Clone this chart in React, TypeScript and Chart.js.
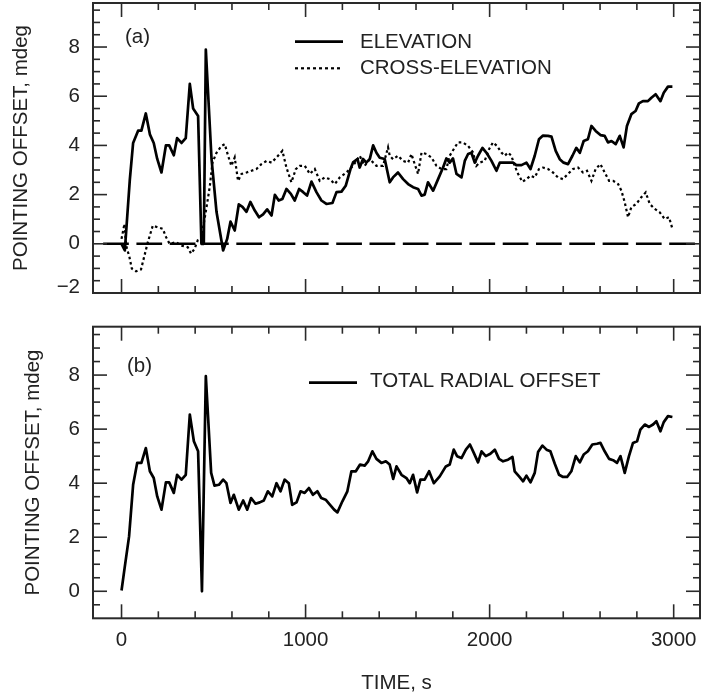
import React, { useEffect, useRef } from "react";
import { Chart, registerables } from "chart.js";

Chart.register(...registerables);

// ---------- DATA ----------
const ELEV_T = [0, 18, 45, 63, 90, 108, 132, 154, 175, 194, 217, 241, 259, 284, 302, 326, 349, 371, 389, 416, 434, 447, 458, 489, 516, 552, 574, 592, 615, 637, 657, 679, 700, 724, 747, 769, 791, 815, 833, 854, 874, 896, 920, 941, 965, 987, 1008, 1032, 1059, 1086, 1113, 1146, 1168, 1195, 1218, 1244, 1258, 1282, 1294, 1312, 1330, 1349, 1367, 1385, 1403, 1430, 1457, 1475, 1502, 1530, 1557, 1584, 1611, 1630, 1647, 1665, 1693, 1720, 1747, 1765, 1783, 1801, 1820, 1847, 1865, 1883, 1901, 1919, 1937, 1961, 1983, 2010, 2037, 2055, 2091, 2127, 2145, 2173, 2200, 2222, 2245, 2268, 2290, 2317, 2336, 2359, 2381, 2402, 2426, 2450, 2471, 2490, 2511, 2534, 2553, 2576, 2602, 2625, 2643, 2662, 2685, 2707, 2728, 2746, 2770, 2793, 2811, 2833, 2860, 2879, 2902, 2915, 2928, 2946, 2969, 2993];
const ELEV_V = [0, -0.27, 2.6, 4.1, 4.6, 4.6, 5.3, 4.45, 4.1, 3.45, 2.9, 4.0, 4.0, 3.6, 4.3, 4.1, 4.3, 6.5, 5.5, 5.2, 0, 0, 7.9, 3.45, 1.3, -0.27, 0.2, 0.9, 0.54, 1.6, 1.5, 1.3, 1.7, 1.35, 1.08, 1.2, 1.4, 1.15, 1.99, 1.76, 1.82, 2.23, 2.03, 1.76, 2.23, 2.1, 1.96, 2.53, 2.1, 1.76, 1.62, 1.66, 2.1, 2.12, 2.36, 3.04, 3.31, 3.45, 3.1, 3.45, 3.3, 3.45, 4.0, 3.7, 3.5, 3.45, 2.5, 2.7, 2.9, 2.63, 2.43, 2.3, 2.23, 1.96, 2.0, 2.5, 2.16, 2.63, 3.1, 3.47, 3.3, 3.47, 2.84, 2.7, 3.37, 3.65, 3.7, 3.3, 3.58, 3.9, 3.7, 3.37, 2.97, 3.3, 3.3, 3.3, 3.2, 3.2, 3.3, 3.04, 3.58, 4.25, 4.4, 4.39, 4.36, 3.78, 3.44, 3.3, 3.24, 3.58, 3.9, 3.7, 4.18, 4.25, 4.79, 4.59, 4.42, 4.39, 4.12, 4.18, 4.05, 4.39, 3.92, 4.79, 5.27, 5.4, 5.71, 5.8, 5.8, 5.94, 6.08, 5.94, 5.8, 6.14, 6.39, 6.39];

const XEL_T = [0, 16, 25, 43, 56, 79, 106, 125, 143, 170, 197, 224, 242, 261, 297, 324, 360, 378, 397, 414, 432, 451, 469, 480, 494, 516, 543, 561, 579, 597, 615, 633, 652, 679, 706, 733, 760, 788, 815, 842, 874, 896, 923, 947, 968, 996, 1023, 1050, 1077, 1104, 1131, 1159, 1186, 1222, 1258, 1294, 1321, 1349, 1385, 1421, 1448, 1457, 1475, 1502, 1530, 1557, 1575, 1593, 1611, 1630, 1657, 1684, 1711, 1738, 1765, 1783, 1811, 1828, 1855, 1883, 1910, 1928, 1946, 1973, 1997, 2018, 2040, 2064, 2082, 2100, 2118, 2136, 2155, 2178, 2200, 2222, 2245, 2268, 2290, 2317, 2344, 2371, 2398, 2426, 2453, 2480, 2507, 2529, 2553, 2576, 2602, 2625, 2649, 2671, 2698, 2716, 2734, 2752, 2770, 2797, 2824, 2848, 2870, 2897, 2924, 2951, 2975, 2993];
const XEL_V = [0.2, 0.81, -0.07, -0.54, -1.01, -1.12, -1.04, -0.47, 0.07, 0.74, 0.67, 0.61, 0.27, 0, 0.07, -0.07, -0.14, -0.4, -0.2, 0.14, 0.2, 1.0, 1.82, 2.36, 3.3, 3.7, 3.98, 4.05, 3.58, 3.17, 3.51, 2.56, 2.84, 2.9, 2.97, 3.04, 3.24, 3.37, 3.3, 3.51, 3.78, 3.1, 2.5, 3.04, 3.17, 3.17, 2.84, 3.04, 2.56, 2.7, 2.63, 2.43, 2.7, 2.9, 3.17, 3.58, 3.17, 3.44, 3.17, 3.17, 3.92, 3.58, 3.44, 3.58, 3.37, 3.3, 3.65, 3.24, 2.84, 3.71, 3.65, 3.51, 3.17, 3.04, 3.04, 3.58, 3.92, 4.12, 4.12, 3.98, 3.71, 3.17, 3.3, 3.37, 3.85, 4.12, 3.98, 3.71, 3.58, 3.71, 3.58, 3.17, 2.84, 2.52, 2.63, 2.77, 2.7, 3.04, 3.1, 3.04, 2.9, 2.7, 2.63, 2.84, 3.04, 3.1, 2.9, 2.97, 2.56, 3.04, 3.24, 2.9, 2.56, 2.56, 2.43, 2.16, 1.69, 1.08, 1.49, 1.62, 1.89, 2.09, 1.62, 1.42, 1.28, 1.01, 1.08, 0.61];

const TOT_T = [0, 18, 41, 63, 85, 108, 132, 154, 175, 194, 217, 241, 259, 284, 302, 326, 349, 371, 393, 416, 437, 458, 487, 505, 529, 552, 570, 592, 610, 637, 661, 683, 704, 728, 751, 773, 795, 819, 842, 864, 886, 909, 927, 951, 973, 995, 1018, 1040, 1064, 1085, 1109, 1133, 1155, 1173, 1200, 1227, 1249, 1273, 1296, 1321, 1340, 1363, 1385, 1412, 1436, 1457, 1476, 1494, 1521, 1548, 1566, 1584, 1606, 1624, 1647, 1671, 1697, 1729, 1762, 1783, 1805, 1823, 1847, 1871, 1893, 1914, 1937, 1956, 1979, 2004, 2028, 2051, 2073, 2100, 2124, 2136, 2160, 2182, 2200, 2222, 2245, 2263, 2287, 2309, 2330, 2354, 2377, 2399, 2421, 2444, 2468, 2490, 2511, 2534, 2558, 2583, 2602, 2625, 2649, 2671, 2692, 2711, 2734, 2757, 2779, 2801, 2819, 2843, 2866, 2888, 2906, 2928, 2946, 2969, 2993];
const TOT_V = [0.03, 0.92, 2.03, 3.94, 4.75, 4.75, 5.3, 4.44, 4.19, 3.51, 3.02, 4.03, 4.03, 3.64, 4.31, 4.13, 4.31, 6.54, 5.55, 5.18, 0, 7.96, 4.38, 3.91, 3.94, 4.13, 4.0, 3.27, 3.57, 3.02, 3.36, 3.02, 3.45, 3.24, 3.29, 3.36, 3.7, 3.51, 4.0, 3.7, 4.13, 4.0, 3.2, 3.29, 3.7, 3.64, 3.82, 3.57, 3.7, 3.45, 3.39, 3.2, 3.02, 2.92, 3.33, 3.7, 4.44, 4.44, 4.69, 4.65, 4.81, 5.18, 4.9, 4.75, 4.81, 4.69, 4.16, 4.62, 4.31, 4.19, 4.0, 4.31, 3.66, 4.13, 4.13, 4.44, 4.0, 4.25, 4.62, 4.69, 5.24, 5.0, 4.93, 5.24, 5.43, 5.12, 4.77, 5.18, 5.0, 5.09, 5.24, 4.9, 4.81, 4.87, 4.97, 4.44, 4.25, 4.07, 4.28, 4.03, 4.38, 5.15, 5.39, 5.24, 5.18, 4.72, 4.31, 4.23, 4.23, 4.44, 5.0, 4.77, 5.06, 5.18, 5.43, 5.46, 5.49, 5.18, 4.9, 4.85, 4.75, 5.0, 4.38, 5.0, 5.49, 5.55, 5.98, 6.17, 6.08, 6.17, 6.29, 5.92, 6.26, 6.48, 6.45];

const ZERO_T = [-100, 3150];
const ZERO_V = [0, 0];

const X_TICKS = [0, 1000, 2000, 3000];
const Y_TICKS_A = [-2, 0, 2, 4, 6, 8];
const Y_TICKS_B = [0, 2, 4, 6, 8];

const LABEL_A = "(a)";
const LABEL_B = "(b)";
const LEGEND_A = ["ELEVATION", "CROSS-ELEVATION"];
const LEGEND_B = ["TOTAL RADIAL OFFSET"];
const Y_TITLE = "POINTING OFFSET, mdeg";
const X_TITLE = "TIME, s";

// ---------- STYLE ----------
const FONT = "'Liberation Sans', Arial, Helvetica, sans-serif";
const FS = 20.5;
const TEXT = "#222";
const FRAME = "#2a2a2a";
const W = 701;

const pts = (t: number[], v: number[]) => t.map((x, i) => ({ x, y: v[i] }));

function fmt(v: number) {
  return v < 0 ? "\u2212" + Math.abs(v) : String(v);
}

type LegendItem = { text: string; dash: number[]; width: number; lineX0: number; lineX1: number; lineY: number; textX: number; textY: number };

function framePlugin(yMinorStart: number, panel: { text: string; x: number; y: number }, legend: LegendItem[]) {
  return {
    id: "frame",
    afterDatasetsDraw(chart: any) {
      const { ctx, chartArea: a, scales } = chart;
      const xs = scales.x, ys = scales.y;
      ctx.save();
      ctx.strokeStyle = FRAME;
      ctx.lineWidth = 1.6;
      ctx.setLineDash([]);
      const seg = (x0: number, y0: number, x1: number, y1: number) => {
        ctx.beginPath();
        ctx.moveTo(x0, y0);
        ctx.lineTo(x1, y1);
        ctx.stroke();
      };
      for (let t = 0; t <= 3000; t += 200) {
        const px = xs.getPixelForValue(t);
        const L = t % 1000 === 0 ? 14 : 7;
        seg(px, a.bottom, px, a.bottom - L);
        seg(px, a.top, px, a.top + L);
      }
      for (let k = yMinorStart * 2; k <= 19; k++) {
        const v = k / 2;
        const py = ys.getPixelForValue(v);
        if (py < a.top + 0.5 || py > a.bottom - 0.5) continue;
        const L = Number.isInteger(v) && v % 2 === 0 ? 14 : 7;
        seg(a.left, py, a.left + L, py);
        seg(a.right, py, a.right - L, py);
      }
      ctx.lineWidth = 2;
      ctx.strokeRect(a.left, a.top, a.right - a.left, a.bottom - a.top);

      ctx.fillStyle = TEXT;
      ctx.font = `${FS}px ${FONT}`;
      ctx.textBaseline = "middle";
      ctx.textAlign = "left";
      ctx.fillText(panel.text, panel.x, panel.y);
      for (const it of legend) {
        ctx.strokeStyle = "#000";
        ctx.lineWidth = it.width;
        ctx.setLineDash(it.dash);
        seg(it.lineX0, it.lineY, it.lineX1, it.lineY);
        ctx.setLineDash([]);
        ctx.fillText(it.text, it.textX, it.textY);
      }
      ctx.restore();
    },
  };
}

function yAxis(min: number, ticks: number[], titlePad: number) {
  return {
    type: "linear",
    min,
    max: 9.79,
    afterFit: (s: any) => {
      s.width = 93;
      s.paddingTop = 0;
      s.paddingBottom = 0;
    },
    afterBuildTicks: (s: any) => {
      s.ticks = ticks.map((v) => ({ value: v }));
    },
    grid: { display: false, drawTicks: false },
    border: { display: false },
    ticks: {
      padding: 13,
      color: TEXT,
      // the label sitting on the bottom frame is lifted a little, as in the reference
      font: (c: any) => ({ family: FONT, size: FS, lineHeight: c.tick && c.tick.value === min ? 0.6 : 1.2 }),
      callback: (v: any) => (Number(v) === min ? [fmt(Number(v)), ""] : fmt(Number(v))),
    },
    title: {
      display: true,
      text: Y_TITLE,
      color: TEXT,
      font: { family: FONT, size: FS, lineHeight: 1.2 },
      padding: { top: titlePad, bottom: 0 },
    },
  };
}

function Panel({ which }: { which: "a" | "b" }) {
  const ref = useRef<HTMLCanvasElement | null>(null);
  useEffect(() => {
    if (!ref.current) return;
    let chart: Chart;
    if (which === "a") {
      chart = new Chart(ref.current, {
        type: "line",
        data: {
          datasets: [
            { data: pts(ZERO_T, ZERO_V), borderColor: "#000", borderWidth: 2.6, borderDash: [25.7, 7.6], pointRadius: 0, fill: false },
            { data: pts(XEL_T, XEL_V), borderColor: "#000", borderWidth: 2.2, borderDash: [2.6, 2.8], pointRadius: 0, fill: false },
            { data: pts(ELEV_T, ELEV_V), borderColor: "#000", borderWidth: 2.7, borderJoinStyle: "round", pointRadius: 0, fill: false },
          ],
        } as any,
        options: {
          animation: false,
          responsive: false,
          events: [],
          layout: { padding: { left: 0, right: 1, top: 3, bottom: 17 } },
          plugins: { legend: { display: false }, tooltip: { enabled: false } },
          scales: {
            x: { type: "linear", min: -155, max: 3143, display: false },
            y: yAxis(-2, Y_TICKS_A, 9) as any,
          },
        } as any,
        plugins: [
          framePlugin(-3, { text: LABEL_A, x: 125, y: 37 }, [
            { text: LEGEND_A[0], dash: [], width: 2.7, lineX0: 295, lineX1: 343, lineY: 41.7, textX: 360, textY: 42.5 },
            { text: LEGEND_A[1], dash: [3, 3], width: 2.2, lineX0: 295, lineX1: 343, lineY: 68.3, textX: 360, textY: 68.7 },
          ]) as any,
        ],
      });
    } else {
      chart = new Chart(ref.current, {
        type: "line",
        data: {
          datasets: [
            { data: pts(TOT_T, TOT_V), borderColor: "#000", borderWidth: 2.7, borderJoinStyle: "round", pointRadius: 0, fill: false },
          ],
        } as any,
        options: {
          animation: false,
          responsive: false,
          events: [],
          layout: { padding: { left: 0, right: 1, top: 16.7, bottom: 0 } },
          plugins: { legend: { display: false }, tooltip: { enabled: false } },
          scales: {
            x: {
              type: "linear",
              min: -155,
              max: 3143,
              afterFit: (s: any) => {
                s.height = 77.7;
                s.paddingLeft = 0;
                s.paddingRight = 0;
              },
              afterBuildTicks: (s: any) => {
                s.ticks = X_TICKS.map((v) => ({ value: v }));
              },
              grid: { display: false, drawTicks: false },
              border: { display: false },
              ticks: {
                padding: 10,
                maxRotation: 0,
                color: TEXT,
                font: { family: FONT, size: FS },
                callback: (v: any) => String(v),
              },
              title: {
                display: true,
                text: X_TITLE,
                color: TEXT,
                font: { family: FONT, size: FS, lineHeight: 1.2 },
                padding: { top: 0, bottom: 0 },
              },
            },
            y: yAxis(-1, Y_TICKS_B, 21) as any,
          },
        } as any,
        plugins: [
          framePlugin(-1, { text: LABEL_B, x: 127, y: 56 }, [
            { text: LEGEND_B[0], dash: [], width: 2.7, lineX0: 309, lineX1: 357, lineY: 72.7, textX: 370, textY: 71.7 },
          ]) as any,
        ],
      });
    }
    return () => chart.destroy();
  }, [which]);
  const h = which === "a" ? 310 : 386;
  const top = which === "a" ? 0 : 310;
  return (
    <canvas
      ref={ref}
      width={W}
      height={h}
      style={{ position: "absolute", left: 0, top, width: W, height: h, display: "block" }}
    />
  );
}

export default function App() {
  return (
    <div style={{ position: "absolute", left: 0, top: 0, width: W, height: 696, background: "#fff" }}>
      <Panel which="a" />
      <Panel which="b" />
    </div>
  );
}
